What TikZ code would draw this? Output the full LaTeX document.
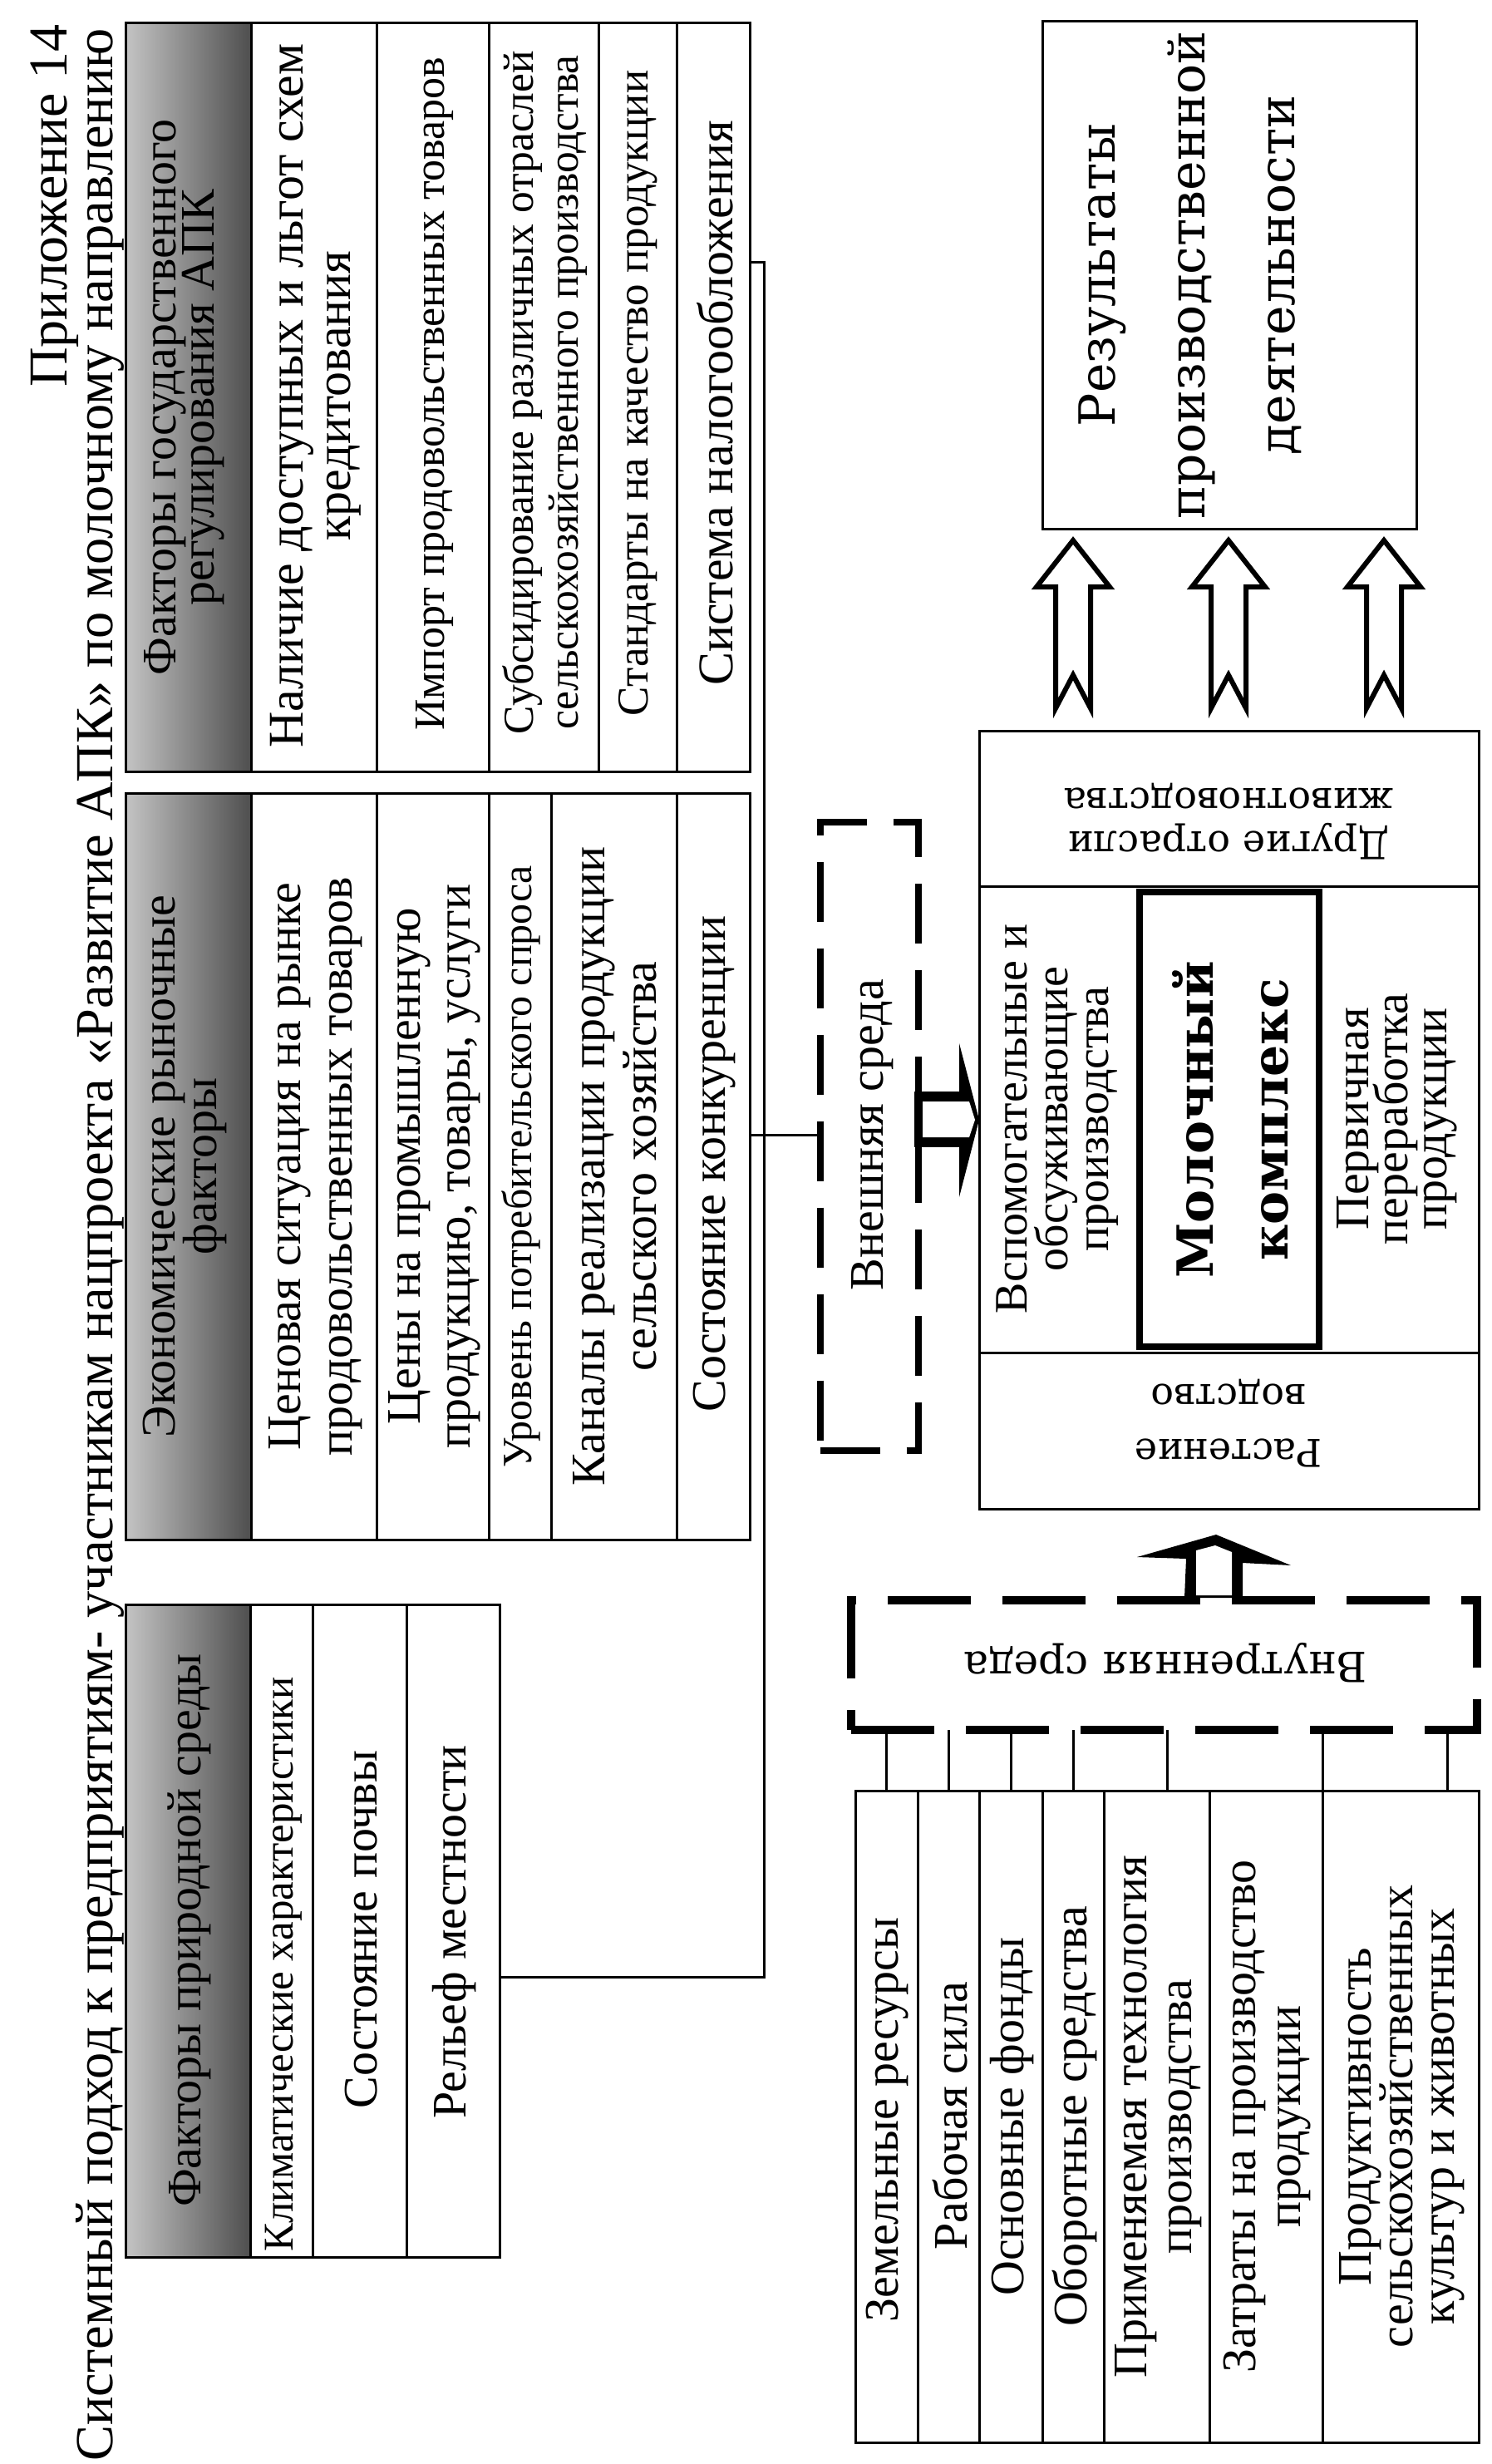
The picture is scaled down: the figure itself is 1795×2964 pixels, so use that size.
\documentclass[tikz,border=0pt]{standalone}
\usepackage{fontspec}
\setmainfont{Liberation Serif}
\newfontfamily\dvs{DejaVu Serif}
\usetikzlibrary{calc}
\definecolor{hdrL}{RGB}{196,196,196}
\definecolor{hdrD}{RGB}{78,78,78}
\setlength\lineskiplimit{-1000pt}
\setlength\lineskip{0pt}
\newcommand\fsz[2]{\fontsize{#1}{#2}\selectfont}
\newcommand\cellbox[6][]{\node[frame,#1,minimum width={#4-#3},minimum height={#6-#5}] (#2) at ({(#3+#4)/2},{(#5+#6)/2}) {};}
\begin{document}
\begin{tikzpicture}[x=1pt,y=-1pt,
  frame/.style={draw,line width=3pt,inner sep=0pt,outer sep=0pt},
  hdr/.style={left color=hdrL,right color=hdrD},
  tx/.style={rotate=90,align=center,inner sep=0pt},
  ux/.style={rotate=180,align=center,inner sep=0pt},
  conn/.style={line width=3pt},
  hollow/.style={draw,line width=6pt,fill=white,line join=miter},
  extd/.style={line width=8pt,dash pattern=on 72pt off 32pt},
  intd/.style={line width=10pt,dash pattern=on 100pt off 38pt},
  thick box/.style={line width=8pt}
  ]
\path[use as bounding box,fill=white] (0,0) rectangle (1795,2964);

% ---------- title ----------
\node[tx,anchor=base east,font=\fsz{66}{66}] (t1) at (80,29) {Приложение 14};
\node[tx,anchor=base east,font=\fsz{64.4}{64.4}] (t2) at (135,34) {Системный подход к предприятиям- участникам нацпроекта «Развитие АПК» по молочному направлению};

% ---------- government regulation ----------
\cellbox[hdr]{gh}{151}{302.5}{27.5}{928}
\cellbox{g1}{302.5}{453.5}{27.5}{928}
\cellbox{g2}{453.5}{588.5}{27.5}{928}
\cellbox{g3}{588.5}{720}{27.5}{928}
\cellbox{g4}{720}{814}{27.5}{928}
\cellbox{g5}{814}{902.5}{27.5}{928}
\node[tx,font=\fsz{58}{46}] (tgh) at (222,478) {Факторы государственного\\регулирования АПК};
\node[tx,font=\fsz{60}{57}] (tg1) at (380,476) {Наличие доступных и льгот схем\\кредитования};
\node[tx,font=\fsz{52}{52}] (tg2) at (523,474) {Импорт продовольственных товаров};
\node[tx,font=\fsz{51.5}{54}] (tg3) at (656,472) {Субсидирование различных отраслей\\сельскохозяйственного производства};
\node[tx,font=\fsz{53}{53}] (tg4) at (768,473) {Стандарты на качество продукции};
\node[tx,font=\fsz{60}{60}] (tg5) at (860,485) {Система налогообложения};

% ---------- economic factors ----------
\cellbox[hdr]{eh}{151}{302.5}{954}{1852}
\cellbox{e1}{302.5}{453.5}{954}{1852}
\cellbox{e2}{453.5}{588.5}{954}{1852}
\cellbox{e3}{588.5}{663.5}{954}{1852}
\cellbox{e4}{663.5}{814}{954}{1852}
\cellbox{e5}{814}{902.5}{954}{1852}
\node[tx,font=\fsz{58}{50}] (teh) at (222,1403) {Экономические рыночные\\факторы};
\node[tx,font=\fsz{58}{62}] (te1) at (380,1403) {Ценовая ситуация на рынке\\продовольственных товаров};
\node[tx,font=\fsz{58}{60}] (te2) at (523,1403) {Цены на промышленную\\продукцию, товары, услуги};
\node[tx,font=\fsz{50}{50}] (te3) at (627,1403) {Уровень потребительского спроса};
\node[tx,font=\fsz{58}{62}] (te4) at (740,1403) {Каналы реализации продукции\\сельского хозяйства};
\node[tx,font=\fsz{58}{58}] (te5) at (860,1400) {Состояние конкуренции};

% ---------- natural factors ----------
\cellbox[hdr]{nh}{151}{301.7}{1930}{2715}
\cellbox{n1}{301.7}{376}{1930}{2715}
\cellbox{n2}{376}{489.5}{1930}{2715}
\cellbox{n3}{489.5}{601.7}{1930}{2715}
\node[tx,font=\fsz{58}{58}] (tnh) at (228,2322) {Факторы природной среды};
\node[tx,font=\fsz{51}{51}] (tn1) at (341,2363) {Климатические характеристики};
\node[tx,font=\fsz{58}{58}] (tn2) at (435,2321) {Состояние почвы};
\node[tx,font=\fsz{58}{58}] (tn3) at (547,2324) {Рельеф местности};

% ---------- connectors (left) ----------
\coordinate (gc) at (902.5,315);
\coordinate (bus) at (919,315);
\coordinate (ec) at (902.5,1365);
\coordinate (nc) at (601.7,2378);
\draw[conn] (gc) -- (bus) |- (nc);

% ---------- external environment ----------
\cellbox[extd]{ext}{986.6}{1104.8}{989}{1745}
\node[tx,font=\fsz{58}{58}] (text) at (1050,1365) {Внешняя среда};
\draw[conn] (ec) -- (ext.west |- ec);

% ---------- results ----------
\cellbox{res}{1254}{1704}{25.5}{636.5}
\node[tx,font={\dvs\fsz{60}{108}}] (tres) at (1432,331) {Результаты\\производственной\\деятельности};

% ---------- complex ----------
\cellbox{ctop}{1178}{1779}{879}{1066.5}
\cellbox{cmid}{1178}{1779}{1066.5}{1627}
\cellbox{cbot}{1178}{1779}{1627}{1815.6}
\cellbox[thick box]{mk}{1370.5}{1586.5}{1073.4}{1620}
\node[ux,font={\dvs\fsz{46}{52}}] (tct) at (1478,988) {Другие отрасли\\животноводства};
\node[ux,font={\dvs\fsz{46}{66}}] (tcb) at (1478,1712) {Растение\\водство};
\node[tx,font=\fsz{56}{49}] (tcl) at (1272,1346) {Вспомогательные и\\обсуживающие\\производства};
\node[tx,font={\dvs\bfseries\fsz{60}{90}}] (tmk) at (1480,1347) {Молочный\\комплекс};
\node[tx,font=\fsz{58}{47}] (tcr) at (1681,1346) {Первичная\\переработка\\продукции};

% ---------- arrows complex -> results ----------
\foreach \n/\cx in {a1/1291,a2/1478,a3/1665}{
  \coordinate (\n) at (\cx,650);
  \draw[hollow] (\n) -- ++(44,56) -- ++(-23,0) -- ++(0,146) -- ++(-21,-40) -- ++(-21,40) -- ++(0,-146) -- ++(-23,0) -- cycle;
}

% ---------- arrow external -> complex ----------
\fill (1154,1255) -- (cmid.west |- 0,1347) -- (1154,1440) -- cycle;
\fill (1100,1313) rectangle (1165,1380);
\fill[white] (1110,1325) -- (1166,1325) -- (1173,1347) -- (1166,1368) -- (1110,1368) -- cycle;

% ---------- internal environment ----------
\cellbox[intd]{int}{1024}{1777}{1925}{2081}
\node[ux,font={\dvs\fsz{50}{50}}] (tint) at (1402,2000) {Внутренняя среда};
\fill (1368,1873) -- (1463,1846) -- (1553,1883) -- (1495,1880) -- (1495,1922) -- (1425,1922) -- (1427,1875) -- cycle;
\fill[white] (1439,1919) -- (1439,1865) -- (1462,1859) -- (1482,1867) -- (1482,1919) -- cycle;

% ---------- internal factors table ----------
\cellbox{b1}{1029}{1104}{2154}{2938}
\cellbox{b2}{1104}{1178}{2154}{2938}
\cellbox{b3}{1178}{1254}{2154}{2938}
\cellbox{b4}{1254}{1328.5}{2154}{2938}
\cellbox{b5}{1328.5}{1455}{2154}{2938}
\cellbox{b6}{1455}{1591.5}{2154}{2938}
\cellbox{b7}{1591.5}{1779}{2154}{2938}
\node[tx,font=\fsz{58}{58}] (tb1) at (1068,2550) {Земельные ресурсы};
\node[tx,font=\fsz{58}{58}] (tb2) at (1143,2545) {Рабочая сила};
\node[tx,font=\fsz{58}{58}] (tb3) at (1218,2546) {Основные фонды};
\node[tx,font=\fsz{58}{58}] (tb4) at (1293,2546) {Оборотные средства};
\node[tx,font=\fsz{58}{54}] (tb5) at (1394,2546) {Применяемая технология\\производства};
\node[tx,font=\fsz{58}{54}] (tb6) at (1525,2546) {Затраты на производство\\продукции};
\node[tx,font=\fsz{58}{50}] (tb7) at (1687,2546) {Продуктивность\\сельскохозяйственных\\культур и животных};

\foreach \b in {b1,b2,b3,b4}{\draw[conn] (\b.north |- int.south) -- (\b.north);}
\coordinate (s5) at (1404.6,2081);
\coordinate (s6) at (1591.5,2081);
\coordinate (s7) at (1741.7,2081);
\draw[conn] (s5) -- (s5 |- b5.north);
\draw[conn] (s6) -- (s6 |- b6.north);
\draw[conn] (s7) -- (s7 |- b7.north);
\end{tikzpicture}
\end{document}
